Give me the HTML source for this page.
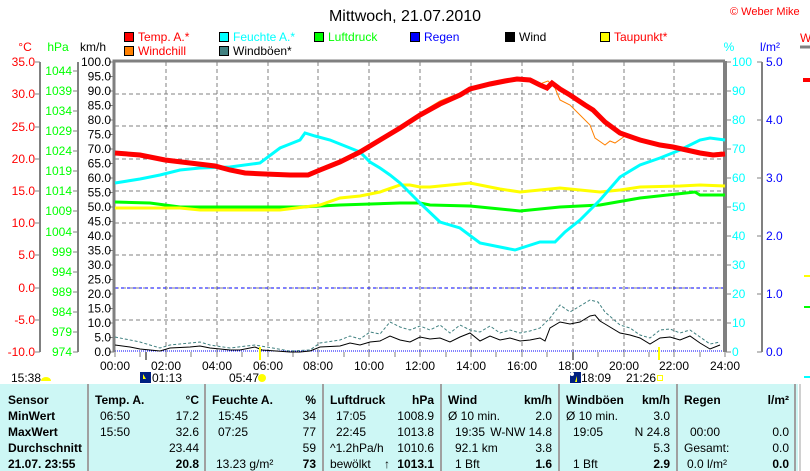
<!DOCTYPE html>
<html><head><meta charset="utf-8"><style>
body{margin:0;background:#fff;}
svg{display:block;font-family:"Liberation Sans",sans-serif;}
</style></head><body>
<svg width="810" height="471" viewBox="0 0 810 471" xmlns="http://www.w3.org/2000/svg">
<rect width="810" height="471" fill="#fff"/>
<text x="405" y="21" font-size="16" text-anchor="middle" fill="#000">Mittwoch, 21.07.2010</text>
<text x="730" y="15" font-size="11" fill="#f00">© Weber Mike</text>
<g font-size="12">
<rect x="124.5" y="32.5" width="9" height="9" fill="#f00" stroke="#000"/><text x="138" y="41" fill="#f00">Temp. A.*</text>
<rect x="124.5" y="46.5" width="9" height="9" fill="#ff8000" stroke="#000"/><text x="138" y="55" fill="#f00">Windchill</text>
<rect x="219.5" y="32.5" width="9" height="9" fill="#0ff" stroke="#000"/><text x="233" y="41" fill="#0ff">Feuchte A.*</text>
<rect x="219.5" y="46.5" width="9" height="9" fill="#408080" stroke="#000"/><text x="233" y="55" fill="#000">Windböen*</text>
<rect x="314.5" y="32.5" width="9" height="9" fill="#0f0" stroke="#000"/><text x="328" y="41" fill="#0f0">Luftdruck</text>
<rect x="410.5" y="32.5" width="9" height="9" fill="#00f" stroke="#000"/><text x="424" y="41" fill="#00f">Regen</text>
<rect x="505.5" y="32.5" width="9" height="9" fill="#000" stroke="#000"/><text x="519" y="41" fill="#000">Wind</text>
<rect x="600.5" y="32.5" width="9" height="9" fill="#ff0" stroke="#000"/><text x="614" y="41" fill="#f00">Taupunkt*</text>
<text x="25" y="51" fill="#f00" text-anchor="middle">°C</text>
<text x="58" y="51" fill="#0f0" text-anchor="middle">hPa</text>
<text x="93" y="51" fill="#000" text-anchor="middle">km/h</text>
<text x="729" y="51" fill="#0ff" text-anchor="middle">%</text>
<text x="770" y="51" fill="#00f" text-anchor="middle">l/m²</text>
</g>
<!-- partial right chart -->
<text x="800" y="42" font-size="12" fill="#f00">W</text>
<line x1="800" y1="47" x2="810" y2="47" stroke="#808080" stroke-width="3"/>
<line x1="803" y1="80" x2="810" y2="80" stroke="#f00" stroke-width="4"/>
<line x1="804" y1="276" x2="810" y2="276" stroke="#ff0" stroke-width="2"/>
<line x1="804" y1="307" x2="810" y2="307" stroke="#0f0" stroke-width="2"/>
<line x1="804" y1="377" x2="810" y2="377" stroke="#0ff" stroke-width="2"/>
<!-- axes -->
<g stroke="#808080" stroke-width="2" fill="none">
<line x1="40" y1="62" x2="40" y2="352"/>
<line x1="78" y1="62" x2="78" y2="352"/>
<line x1="762" y1="62" x2="762" y2="352"/>
</g>
<g stroke="#808080" stroke-width="1">
<path d="M35 62h5M35 94h5M35 127h5M35 159h5M35 191h5M35 223h5M35 255h5M35 288h5M35 320h5M35 352h5"/>
<path d="M73 71h5M73 91h5M73 111h5M73 131h5M73 151h5M73 171h5M73 191h5M73 211h5M73 232h5M73 252h5M73 272h5M73 292h5M73 312h5M73 332h5M73 352h5"/>
<path d="M757 62h5M757 120h5M757 178h5M757 236h5M757 294h5M757 352h5"/>
<path d="M109 62h5M109 76.5h5M109 91h5M109 105.5h5M109 120h5M109 134.5h5M109 149h5M109 163.5h5M109 178h5M109 192.5h5M109 207h5M109 221.5h5M109 236h5M109 250.5h5M109 265h5M109 279.5h5M109 294h5M109 308.5h5M109 323h5M109 337.5h5M109 352h5"/>
<path d="M726 62h5M726 91h5M726 120h5M726 149h5M726 178h5M726 207h5M726 236h5M726 265h5M726 294h5M726 323h5M726 352h5"/>
<path d="M115 352v5M140 352v5M166 352v5M191 352v5M217 352v5M242 352v5M268 352v5M293 352v5M318 352v5M344 352v5M369 352v5M395 352v5M420 352v5M446 352v5M471 352v5M496 352v5M522 352v5M547 352v5M573 352v5M598 352v5M624 352v5M649 352v5M674 352v5M700 352v5M725 352v5"/>
</g>
<g font-size="12" fill="#f00" text-anchor="end">
<text x="35" y="66">35.0</text><text x="35" y="98">30.0</text><text x="35" y="131">25.0</text><text x="35" y="163">20.0</text><text x="35" y="195">15.0</text><text x="35" y="227">10.0</text><text x="35" y="259">5.0</text><text x="35" y="292">0.0</text><text x="35" y="324">-5.0</text><text x="35" y="356">-10.0</text>
</g>
<g font-size="12" fill="#0f0" text-anchor="end">
<text x="72" y="75">1044</text><text x="72" y="95">1039</text><text x="72" y="115">1034</text><text x="72" y="135">1029</text><text x="72" y="155">1024</text><text x="72" y="175">1019</text><text x="72" y="195">1014</text><text x="72" y="215">1009</text><text x="72" y="236">1004</text><text x="72" y="256">999</text><text x="72" y="276">994</text><text x="72" y="296">989</text><text x="72" y="316">984</text><text x="72" y="336">979</text><text x="72" y="356">974</text>
</g>
<g font-size="12" fill="#000" text-anchor="end">
<text x="111" y="66">100.0</text><text x="111" y="80.5">95.0</text><text x="111" y="95">90.0</text><text x="111" y="109.5">85.0</text><text x="111" y="124">80.0</text><text x="111" y="138.5">75.0</text><text x="111" y="153">70.0</text><text x="111" y="167.5">65.0</text><text x="111" y="182">60.0</text><text x="111" y="196.5">55.0</text><text x="111" y="211">50.0</text><text x="111" y="225.5">45.0</text><text x="111" y="240">40.0</text><text x="111" y="254.5">35.0</text><text x="111" y="269">30.0</text><text x="111" y="283.5">25.0</text><text x="111" y="298">20.0</text><text x="111" y="312.5">15.0</text><text x="111" y="327">10.0</text><text x="111" y="341.5">5.0</text><text x="111" y="356">0.0</text>
</g>
<g font-size="12" fill="#0ff">
<text x="732" y="66">100</text><text x="732" y="95">90</text><text x="732" y="124">80</text><text x="732" y="153">70</text><text x="732" y="182">60</text><text x="732" y="211">50</text><text x="732" y="240">40</text><text x="732" y="269">30</text><text x="732" y="298">20</text><text x="732" y="327">10</text><text x="732" y="356">0</text>
</g>
<g font-size="12" fill="#00f">
<text x="766" y="66">5.0</text><text x="766" y="124">4.0</text><text x="766" y="182">3.0</text><text x="766" y="240">2.0</text><text x="766" y="298">1.0</text><text x="766" y="356">0.0</text>
</g>
<g font-size="12" fill="#000" text-anchor="middle">
<text x="115" y="370">00:00</text><text x="166" y="370">02:00</text><text x="217" y="370">04:00</text><text x="268" y="370">06:00</text><text x="318" y="370">08:00</text><text x="369" y="370">10:00</text><text x="420" y="370">12:00</text><text x="471" y="370">14:00</text><text x="522" y="370">16:00</text><text x="573" y="370">18:00</text><text x="624" y="370">20:00</text><text x="674" y="370">22:00</text><text x="725" y="370">24:00</text>
</g>
<!-- grid -->
<g stroke="#808080" stroke-width="1" stroke-dasharray="4,3">
<path d="M166 62V352M217 62V352M268 62V352M318 62V352M369 62V352M420 62V352M471 62V352M522 62V352M573 62V352M624 62V352M674 62V352"/>
<path d="M115 94H725M115 126H725M115 159H725M115 191H725M115 223H725M115 255H725M115 288H725M115 320H725"/>
</g>
<line x1="115" y1="288" x2="725" y2="288" stroke="#00f" stroke-dasharray="3,3"/>
<line x1="115" y1="351" x2="725" y2="351" stroke="#00f" stroke-dasharray="1,1"/>
<!-- frame -->
<path d="M114 352V61H725" fill="none" stroke="#808080" stroke-width="3"/>
<line x1="725" y1="61" x2="725" y2="352" stroke="#808080" stroke-width="4"/>
<!-- gusts -->
<polyline fill="none" stroke="#408080" stroke-width="1" stroke-dasharray="3,2" points="115,337 140,342 160,348 170,345 190,343 200,342 210,345 230,348 255,345 290,351 310,350 320,343 340,340 350,336 360,339 370,332 380,334 390,322 400,327 410,330 420,326 430,330 440,325 450,333 460,325 470,330 480,332 490,326 500,333 510,330 520,333 530,331 540,328 550,318 560,305 570,312 580,306 590,300 598,302 605,312 620,325 630,328 640,335 650,338 660,330 670,329 680,333 690,330 700,337 710,344 720,342"/>
<!-- wind -->
<polyline fill="none" stroke="#000" stroke-width="1" points="115,345 130,347 140,349 160,351 170,348 190,347 200,346 210,348 230,350 240,350 255,347 262,350 290,352 300,352 310,351 320,347 340,346 350,343 360,345 370,342 380,341 390,336 400,340 410,342 420,337 430,339 440,338 450,342 460,337 470,333 480,341 490,336 500,340 510,338 520,341 530,340 540,338 545,341 550,328 560,322 570,324 580,322 590,316 595,315 600,321 605,324 620,333 630,335 640,338 650,344 660,338 670,337 680,340 690,336 700,343 710,349 720,345"/>
<!-- pressure -->
<polyline fill="none" stroke="#0f0" stroke-width="3" points="115,202 150,203 180,207 300,207 340,205 400,203 420,203 430,205 470,206 520,211 560,207 600,205 640,198 695,192 700,195 725,195"/>
<!-- dew point -->
<polyline fill="none" stroke="#ff0" stroke-width="3" points="115,208 180,208 200,210 280,210 320,205 340,198 360,196 380,192 400,185 410,185 420,187 430,187 470,183 500,189 520,192 560,188 600,192 620,190 640,187 680,186 700,185 725,186"/>
<!-- humidity -->
<polyline fill="none" stroke="#0ff" stroke-width="3" points="115,183 140,179 160,175 180,170 200,168 230,167 260,163 280,148 290,144 300,140 305,133 315,136 330,140 345,146 360,152 370,162 380,168 390,175 400,183 410,193 420,203 440,222 460,228 480,243 500,247 515,250 540,242 555,242 565,232 580,220 600,200 620,177 640,165 660,158 680,150 700,140 710,138 725,140"/>
<!-- windchill -->
<polyline fill="none" stroke="#ff8000" stroke-width="1" points="115,152 140,154 165,159 190,162 215,165 230,169 245,172 265,173 290,174 308,174 320,168 340,160 360,150 380,138 400,126 420,113 440,101 460,93 480,85 500,81 515,78 528,79 540,84 548,81 555,88 560,100 570,105 580,115 590,125 595,138 605,145 610,141 615,143 625,136 640,138 660,145 680,150 700,154 715,153 722,152"/>
<!-- temperature -->
<polyline fill="none" stroke="#f00" stroke-width="5" points="115,153 140,155 165,160 190,163 215,166 230,170 245,173 265,174 290,175 308,175 320,170 340,162 360,152 380,140 400,128 420,115 440,104 460,95 470,89 490,84 505,81 517,79 530,80 540,85 547,88 552,83 560,89 570,95 585,105 593,110 605,122 620,133 640,140 660,145 673,147 700,153 713,155 725,154"/>
<!-- sun/moon markers -->
<line x1="146" y1="352" x2="146" y2="360" stroke="#808080" stroke-width="2"/>
<line x1="260" y1="347" x2="260" y2="360" stroke="#ff0" stroke-width="2"/>
<line x1="573" y1="352" x2="573" y2="360" stroke="#808080" stroke-width="2"/>
<line x1="659" y1="347" x2="659" y2="360" stroke="#ff0" stroke-width="2"/>
<g font-size="12" fill="#000">
<text x="11" y="382">15:38</text>
<path d="M41 381a5 4 0 0 1 10 0z" fill="#ff0"/>
<rect x="140" y="372" width="11" height="11" fill="#002080"/><path d="M143 374v5h3z" fill="#ff0"/>
<text x="152" y="382">01:13</text>
<text x="229" y="382">05:47</text>
<circle cx="262" cy="378" r="4" fill="#ff0"/>
<rect x="570" y="372" width="11" height="11" fill="#002080"/><circle cx="572" cy="374" r="2" fill="#fff"/><path d="M577 376v6h-2z" fill="#ff0"/>
<text x="581" y="382">18:09</text>
<text x="626" y="382">21:26</text>
<rect x="657.5" y="375.5" width="5" height="5" fill="none" stroke="#ff0"/>
</g>
<!-- table -->
<rect x="0" y="384" width="798" height="87" fill="#cdf7f5"/>
<g stroke="#a0a0a0" stroke-width="2">
<line x1="88" y1="384" x2="88" y2="471"/><line x1="205" y1="384" x2="205" y2="471"/><line x1="323" y1="384" x2="323" y2="471"/><line x1="441" y1="384" x2="441" y2="471"/><line x1="559" y1="384" x2="559" y2="471"/><line x1="677" y1="384" x2="677" y2="471"/><line x1="795" y1="384" x2="795" y2="471"/>
</g>
<line x1="800" y1="384" x2="800" y2="471" stroke="#a0a0a0"/>
<g font-size="12" fill="#000">
<g font-weight="bold">
<text x="8" y="404">Sensor</text><text x="8" y="420">MinWert</text><text x="8" y="436">MaxWert</text><text x="8" y="452">Durchschnitt</text><text x="8" y="468">21.07. 23:55</text>
<text x="95" y="404">Temp. A.</text><text x="199" y="404" text-anchor="end">°C</text>
<text x="212" y="404">Feuchte A.</text><text x="316" y="404" text-anchor="end">%</text>
<text x="330" y="404">Luftdruck</text><text x="434" y="404" text-anchor="end">hPa</text>
<text x="448" y="404">Wind</text><text x="552" y="404" text-anchor="end">km/h</text>
<text x="566" y="404">Windböen</text><text x="670" y="404" text-anchor="end">km/h</text>
<text x="684" y="404">Regen</text><text x="789" y="404" text-anchor="end">l/m²</text>
<text x="199" y="468" text-anchor="end">20.8</text>
<text x="316" y="468" text-anchor="end">73</text>
<text x="434" y="468" text-anchor="end">1013.1</text>
<text x="552" y="468" text-anchor="end">1.6</text>
<text x="670" y="468" text-anchor="end">2.9</text>
<text x="789" y="468" text-anchor="end">0.0</text>
</g>
<text x="100" y="420">06:50</text><text x="199" y="420" text-anchor="end">17.2</text>
<text x="100" y="436">15:50</text><text x="199" y="436" text-anchor="end">32.6</text>
<text x="199" y="452" text-anchor="end">23.44</text>
<text x="218" y="420">15:45</text><text x="316" y="420" text-anchor="end">34</text>
<text x="218" y="436">07:25</text><text x="316" y="436" text-anchor="end">77</text>
<text x="316" y="452" text-anchor="end">59</text>
<text x="216" y="468">13.23 g/m²</text>
<text x="336" y="420">17:05</text><text x="434" y="420" text-anchor="end">1008.9</text>
<text x="336" y="436">22:45</text><text x="434" y="436" text-anchor="end">1013.8</text>
<text x="330" y="452">^1.2hPa/h</text><text x="434" y="452" text-anchor="end">1010.6</text>
<text x="330" y="468">bewölkt</text><text x="384" y="468" font-weight="bold">↑</text>
<text x="448" y="420">Ø 10 min.</text><text x="552" y="420" text-anchor="end">2.0</text>
<text x="455" y="436">19:35</text><text x="552" y="436" text-anchor="end">W-NW 14.8</text>
<text x="455" y="452">92.1 km</text><text x="552" y="452" text-anchor="end">3.8</text>
<text x="455" y="468">1 Bft</text>
<text x="566" y="420">Ø 10 min.</text><text x="670" y="420" text-anchor="end">3.0</text>
<text x="573" y="436">19:05</text><text x="670" y="436" text-anchor="end">N 24.8</text>
<text x="670" y="452" text-anchor="end">5.3</text>
<text x="573" y="468">1 Bft</text>
<text x="690" y="436">00:00</text><text x="789" y="436" text-anchor="end">0.0</text>
<text x="684" y="452">Gesamt:</text><text x="789" y="452" text-anchor="end">0.0</text>
<text x="687" y="468">0.0 l/m²</text>
</g>
</svg>
</body></html>
